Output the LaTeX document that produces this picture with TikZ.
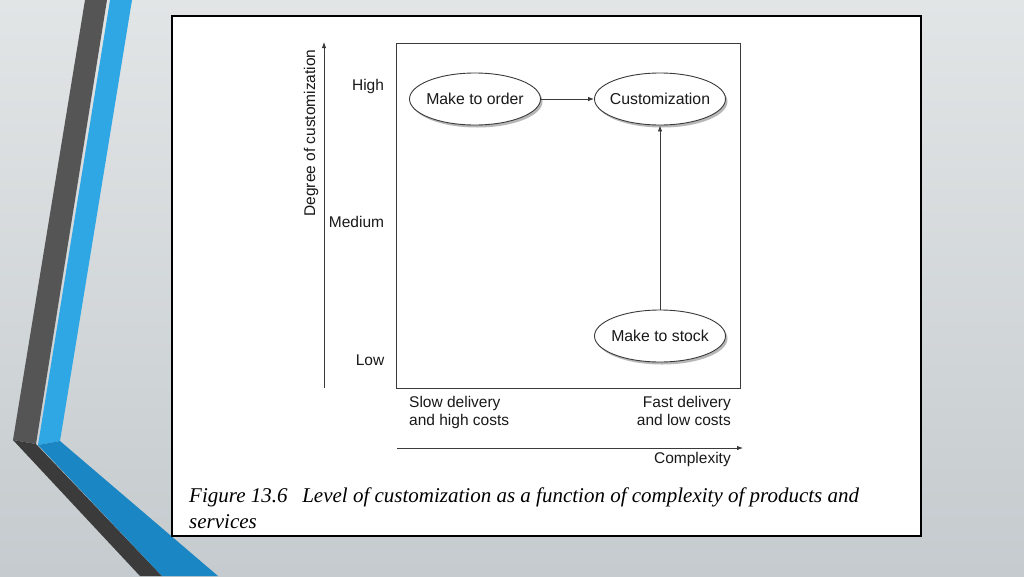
\documentclass[tikz,border=0pt]{standalone}
\usepackage{fontspec}
\setmainfont{Liberation Sans}
\newfontfamily\capfont{Liberation Serif}
\usetikzlibrary{shapes.geometric,shadows,arrows.meta}
\definecolor{bgtop}{HTML}{E2E5E6}
\definecolor{bgbot}{HTML}{C5CBCE}
\definecolor{stripedark}{HTML}{555555}
\definecolor{stripedarklow}{HTML}{3B3B3B}
\definecolor{stripeblue}{HTML}{2EA7E4}
\definecolor{stripebluelow}{HTML}{1A86C4}
\definecolor{lineg}{HTML}{3A3A3A}
\tikzset{
  lbl/.style={font=\fontsize{15.5}{18}\selectfont, inner sep=0pt, text=black!90},
  ovaltext/.style={font=\fontsize{15.8}{18}\selectfont, inner sep=0pt, text=black!90},
  oval/.style={ellipse, draw=lineg, line width=0.9pt, fill=white, minimum width=131pt, minimum height=52pt, inner sep=0pt,
    drop shadow={shadow xshift=2pt, shadow yshift=-2.5pt, fill=black!35, opacity=0.8}},
  conn/.style={draw=lineg, line width=0.8pt, -{Latex[length=6pt,width=4.5pt]}},
  axis/.style={draw=lineg, line width=0.9pt, -{Latex[length=6pt,width=4.5pt]}},
}
\begin{document}
\begin{tikzpicture}[x=1pt,y=-1pt]
\useasboundingbox (0,0) rectangle (1024,576);
\shade[top color=bgtop, bottom color=bgbot] (0,0) rectangle (1024,576);
% decorative stripes
\fill[stripedark] (85,0) -- (107,0) -- (36,444) -- (13,440) -- cycle;
\fill[stripedarklow] (13,440) -- (36,444) -- (162,576) -- (140,576) -- cycle;
\fill[stripeblue] (110,0) -- (132,0) -- (60,441) -- (38,445) -- cycle;
\fill[stripebluelow] (38,445) -- (60,441) -- (218,576) -- (162,576) -- cycle;
% white panel
\node[draw=black, line width=1.8pt, fill=white, minimum width=749pt, minimum height=520pt, anchor=north west, inner sep=0pt] (panel) at (171,15) {};
% inner box
\node[draw=lineg, line width=0.9pt, minimum width=344pt, minimum height=345pt, anchor=north west, inner sep=0pt] (box) at (396,43) {};
% axes
\coordinate (ybot) at (324,388);
\coordinate (ytop) at (324,42);
\draw[axis] (ybot) -- (ytop);
\coordinate (xl) at (397,448);
\coordinate (xr) at (743,448);
\draw[axis] (xl) -- (xr);
% y labels
\node[lbl] (high) at (368,86) {High};
\node[lbl] (med) at (356.5,222) {Medium};
\node[lbl] (low) at (370,360) {Low};
\node[lbl, rotate=90] (ylab) at (311,133) {Degree of customization};
% x labels
\node[lbl, anchor=north west, align=left] (slow) at (409,396) {Slow delivery\\and high costs};
\node[lbl, anchor=north east, align=right] (fast) at (731,396) {Fast delivery\\and low costs};
\node[lbl, anchor=north east] (cplx) at (731,452) {Complexity};
% ovals
\node[oval, label={[ovaltext]center:Make to order}] (mto) at (475,99) {};
\node[oval, label={[ovaltext]center:Customization}] (cust) at (660,99) {};
\node[oval, label={[ovaltext]center:Make to stock}] (mts) at (660,336) {};
\draw[conn] (mto) -- (cust);
\draw[conn] (mts) -- (cust);
% caption
\node[anchor=north west, inner sep=0pt, align=left, font=\capfont\itshape\fontsize{21}{26}\selectfont] (cap) at (189,488)
  {Figure 13.6\hspace{0.7em}Level of customization as a function of complexity of products and\\services};
\end{tikzpicture}
\end{document}
